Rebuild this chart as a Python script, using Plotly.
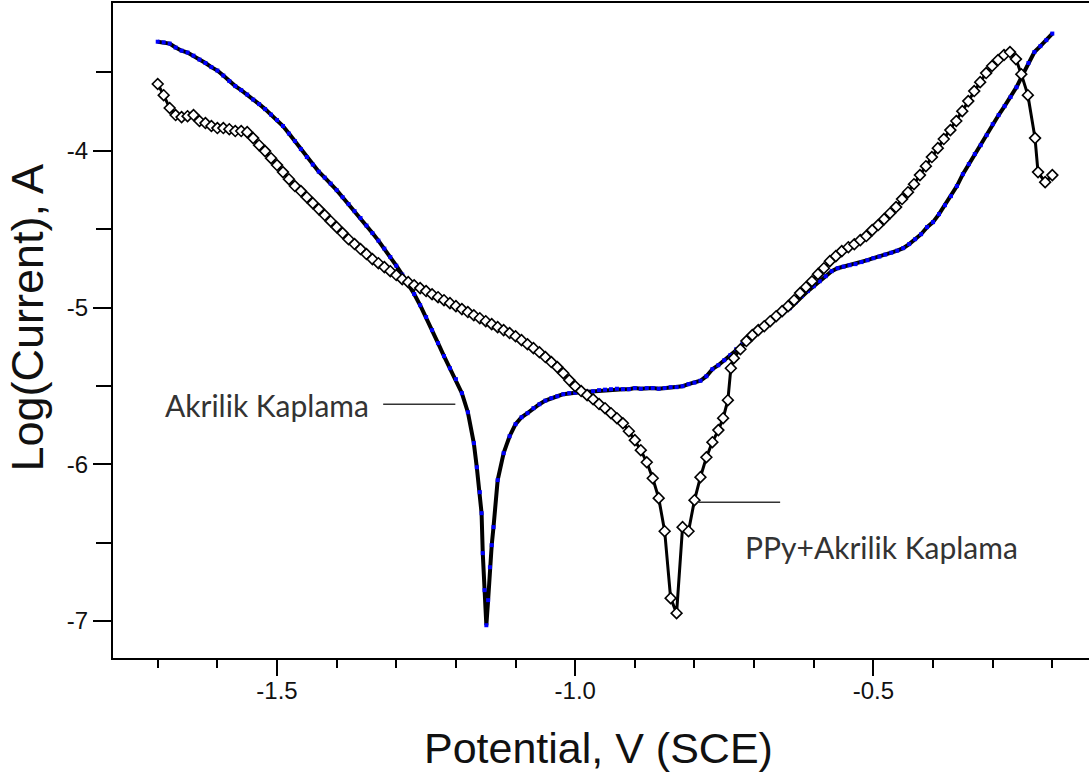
import plotly.graph_objects as go

# ---- Data ----
akr_potential = [
    -1.70, -1.69, -1.68, -1.67, -1.66, -1.65, -1.64, -1.63, -1.62, -1.61,
    -1.60, -1.59, -1.58, -1.57, -1.56, -1.55, -1.54, -1.53, -1.52, -1.51,
    -1.50, -1.49, -1.48, -1.47, -1.46, -1.45, -1.44, -1.43, -1.42, -1.41,
    -1.40, -1.39, -1.38, -1.37, -1.36, -1.35, -1.34, -1.33, -1.32, -1.31,
    -1.30, -1.29, -1.28, -1.27, -1.26, -1.25, -1.24, -1.23, -1.22, -1.21,
    -1.20, -1.19, -1.18, -1.17, -1.165, -1.16, -1.157, -1.155, -1.152, -1.149,
    -1.146, -1.143, -1.14, -1.137, -1.13, -1.12, -1.11, -1.10, -1.09, -1.08,
    -1.07, -1.06, -1.05, -1.04, -1.03, -1.02, -1.01, -1.00, -0.99, -0.98,
    -0.97, -0.96, -0.95, -0.94, -0.93, -0.92, -0.91, -0.90, -0.89, -0.88,
    -0.87, -0.86, -0.85, -0.84, -0.83, -0.82, -0.81, -0.80, -0.79, -0.78,
    -0.77, -0.76, -0.75, -0.74, -0.73, -0.72, -0.71, -0.70, -0.69, -0.68,
    -0.67, -0.66, -0.65, -0.64, -0.63, -0.62, -0.61, -0.60, -0.59, -0.58,
    -0.57, -0.56, -0.55, -0.54, -0.53, -0.52, -0.51, -0.50, -0.49, -0.48,
    -0.47, -0.46, -0.45, -0.44, -0.43, -0.42, -0.41, -0.40, -0.39, -0.38,
    -0.37, -0.36, -0.35, -0.34, -0.33, -0.32, -0.31, -0.30, -0.29, -0.28,
    -0.27, -0.26, -0.25, -0.24, -0.23, -0.22, -0.21, -0.20,
]
akr_logi = [
    -3.304, -3.308, -3.316, -3.341, -3.361, -3.373, -3.393, -3.418, -3.440, -3.466,
    -3.488, -3.520, -3.555, -3.587, -3.613, -3.641, -3.673, -3.702, -3.734, -3.769,
    -3.804, -3.842, -3.890, -3.938, -3.989, -4.040, -4.088, -4.133, -4.171, -4.209,
    -4.251, -4.296, -4.340, -4.385, -4.429, -4.477, -4.525, -4.573, -4.624, -4.678,
    -4.733, -4.790, -4.851, -4.914, -4.985, -5.061, -5.144, -5.227, -5.310, -5.387,
    -5.457, -5.546, -5.668, -5.865, -6.019, -6.178, -6.312, -6.567, -6.803, -7.027,
    -6.867, -6.657, -6.516, -6.401, -6.101, -5.929, -5.821, -5.744, -5.700, -5.674,
    -5.642, -5.617, -5.594, -5.578, -5.566, -5.553, -5.546, -5.543, -5.540, -5.537,
    -5.534, -5.527, -5.524, -5.521, -5.518, -5.521, -5.521, -5.514, -5.518, -5.514,
    -5.514, -5.518, -5.514, -5.508, -5.508, -5.502, -5.489, -5.479, -5.467, -5.438,
    -5.393, -5.368, -5.336, -5.304, -5.266, -5.234, -5.202, -5.170, -5.144, -5.119,
    -5.087, -5.061, -5.029, -5.004, -4.966, -4.927, -4.895, -4.864, -4.832, -4.800,
    -4.768, -4.749, -4.739, -4.730, -4.723, -4.710, -4.698, -4.685, -4.675, -4.662,
    -4.650, -4.637, -4.621, -4.595, -4.564, -4.532, -4.487, -4.455, -4.404, -4.347,
    -4.289, -4.225, -4.149, -4.085, -4.021, -3.964, -3.900, -3.830, -3.772, -3.715,
    -3.657, -3.594, -3.517, -3.440, -3.370, -3.332, -3.294, -3.252,
]

ppy_potential = [
    -1.70, -1.69, -1.68, -1.67, -1.66, -1.65, -1.64, -1.63, -1.62, -1.61,
    -1.60, -1.59, -1.58, -1.57, -1.56, -1.55, -1.54, -1.53, -1.52, -1.51,
    -1.50, -1.49, -1.48, -1.47, -1.46, -1.45, -1.44, -1.43, -1.42, -1.41,
    -1.40, -1.39, -1.38, -1.37, -1.36, -1.35, -1.34, -1.33, -1.32, -1.31,
    -1.30, -1.29, -1.28, -1.27, -1.26, -1.25, -1.24, -1.23, -1.22, -1.21,
    -1.20, -1.19, -1.18, -1.17, -1.16, -1.15, -1.14, -1.13, -1.12, -1.11,
    -1.10, -1.09, -1.08, -1.07, -1.06, -1.05, -1.04, -1.03, -1.02, -1.01,
    -1.00, -0.99, -0.98, -0.97, -0.96, -0.95, -0.94, -0.93, -0.92, -0.91,
    -0.90, -0.89, -0.88, -0.87, -0.86, -0.85, -0.84, -0.83, -0.82, -0.81,
    -0.80, -0.79, -0.78, -0.77, -0.76,
    -0.752, -0.744, -0.739, -0.734, -0.723, -0.713, -0.703, -0.693, -0.683, -0.673,
    -0.663, -0.653, -0.643, -0.633, -0.623, -0.613, -0.603, -0.593, -0.583, -0.573,
    -0.563, -0.553, -0.542, -0.532, -0.522, -0.512, -0.502, -0.492, -0.482, -0.472,
    -0.462, -0.452, -0.442, -0.432, -0.422, -0.412, -0.402, -0.392, -0.382, -0.371,
    -0.361, -0.351, -0.341, -0.331, -0.321, -0.311, -0.301, -0.291, -0.281, -0.271,
    -0.261, -0.252, -0.241, -0.229, -0.224, -0.212, -0.200,
]
ppy_logi = [
    -3.574, -3.645, -3.727, -3.772, -3.785, -3.779, -3.772, -3.810, -3.823, -3.842,
    -3.855, -3.855, -3.862, -3.874, -3.874, -3.881, -3.919, -3.964, -4.002, -4.047,
    -4.091, -4.136, -4.181, -4.225, -4.257, -4.296, -4.334, -4.372, -4.410, -4.449,
    -4.487, -4.525, -4.564, -4.595, -4.627, -4.659, -4.691, -4.717, -4.742, -4.768,
    -4.793, -4.819, -4.838, -4.858, -4.876, -4.895, -4.915, -4.934, -4.953, -4.972,
    -4.991, -5.010, -5.029, -5.049, -5.068, -5.087, -5.106, -5.125, -5.144, -5.163,
    -5.183, -5.208, -5.234, -5.259, -5.285, -5.316, -5.348, -5.380, -5.419, -5.463,
    -5.502, -5.533, -5.559, -5.585, -5.616, -5.642, -5.674, -5.706, -5.738, -5.789,
    -5.846, -5.910, -5.987, -6.089, -6.216, -6.427, -6.854, -6.950, -6.401, -6.427,
    -6.229, -6.082, -5.955, -5.859, -5.782,
    -5.706, -5.591, -5.387, -5.323, -5.266, -5.214, -5.176, -5.144, -5.119, -5.087,
    -5.055, -5.023, -4.991, -4.953, -4.908, -4.870, -4.832, -4.787, -4.749, -4.704,
    -4.672, -4.640, -4.615, -4.596, -4.570, -4.544, -4.506, -4.474, -4.436, -4.398,
    -4.359, -4.308, -4.264, -4.213, -4.155, -4.098, -4.040, -3.983, -3.925, -3.868,
    -3.810, -3.747, -3.683, -3.619, -3.562, -3.504, -3.459, -3.421, -3.389, -3.370,
    -3.415, -3.511, -3.645, -3.919, -4.136, -4.200, -4.155,
]

x_tickvals = [-1.5, -1.0, -0.5]
x_ticktext = ["-1.5", "-1.0", "-0.5"]
y_tickvals = [-7, -6, -5, -4]
y_ticktext = ["-7", "-6", "-5", "-4"]

series_names = ["Akrilik Kaplama", "PPy+Akrilik Kaplama"]

# ---- Figure ----
fig = go.Figure()

fig.add_trace(go.Scatter(
    x=akr_potential, y=akr_logi, name=series_names[0],
    mode="lines+markers",
    line=dict(color="black", width=4),
    marker=dict(symbol="square", size=4, color="#0000ff", line=dict(width=0)),
))
fig.add_trace(go.Scatter(
    x=ppy_potential, y=ppy_logi, name=series_names[1],
    mode="lines+markers",
    line=dict(color="black", width=3),
    marker=dict(symbol="diamond", size=8.3, color="white",
                line=dict(color="black", width=1.6)),
))

tick_font = dict(family="Liberation Sans, Arial, sans-serif", size=24, color="#111111")
title_font = dict(family="Liberation Sans, Arial, sans-serif", size=43, color="#111111")
ytitle_font = dict(family="Liberation Sans, Arial, sans-serif", size=45, color="#111111")
note_font = dict(family="Lato, Open Sans, sans-serif", size=30, color="#333333")

fig.update_xaxes(
    range=[-1.775, -0.1385],
    tickvals=x_tickvals, ticktext=x_ticktext,
    ticks="outside", ticklen=16, tickwidth=2, tickcolor="black",
    minor=dict(dtick=0.1, tick0=-1.5, ticks="outside", ticklen=8,
               tickwidth=2, tickcolor="black", showgrid=False),
    showline=True, linecolor="black", linewidth=2, mirror=True,
    showgrid=False, zeroline=False, tickfont=tick_font,
    ticklabelstandoff=-6,
)
fig.update_yaxes(
    range=[-7.236, -3.057],
    tickvals=y_tickvals, ticktext=y_ticktext,
    ticks="outside", ticklen=18, tickwidth=2, tickcolor="black",
    minor=dict(dtick=0.5, tick0=-7, ticks="outside", ticklen=15,
               tickwidth=2, tickcolor="black", showgrid=False),
    showline=True, linecolor="black", linewidth=2, mirror=False,
    showgrid=False, zeroline=False, tickfont=tick_font,
)

annotations = [
    dict(text="Potential, V (SCE)", xref="paper", yref="paper",
         x=0.497, y=-0.138, xanchor="center", yanchor="middle",
         showarrow=False, font=title_font),
    dict(text="Log(Current), A", xref="paper", yref="paper",
         x=-0.088, y=0.52, xanchor="center", yanchor="middle",
         textangle=-90, showarrow=False, font=ytitle_font),
    dict(text=series_names[0], xref="paper", yref="paper",
         x=0.0515, y=0.386, xanchor="left", yanchor="middle",
         showarrow=False, font=note_font),
    dict(text=series_names[1], xref="paper", yref="paper",
         x=0.6455, y=0.169, xanchor="left", yanchor="middle",
         showarrow=False, font=note_font),
]

shapes = [
    dict(type="line", xref="x", yref="y", x0=-1.322, x1=-1.201, y0=-5.617, y1=-5.617,
         line=dict(color="#333333", width=1.6)),
    dict(type="line", xref="x", yref="y", x0=-0.7955, x1=-0.6564, y0=-6.242, y1=-6.242,
         line=dict(color="#333333", width=1.6)),
]

fig.update_layout(
    width=1089, height=775,
    margin=dict(l=113, r=0, t=3, b=117),
    paper_bgcolor="white", plot_bgcolor="white",
    showlegend=False,
    annotations=annotations, shapes=shapes,
)

fig.write_html("out.html")
